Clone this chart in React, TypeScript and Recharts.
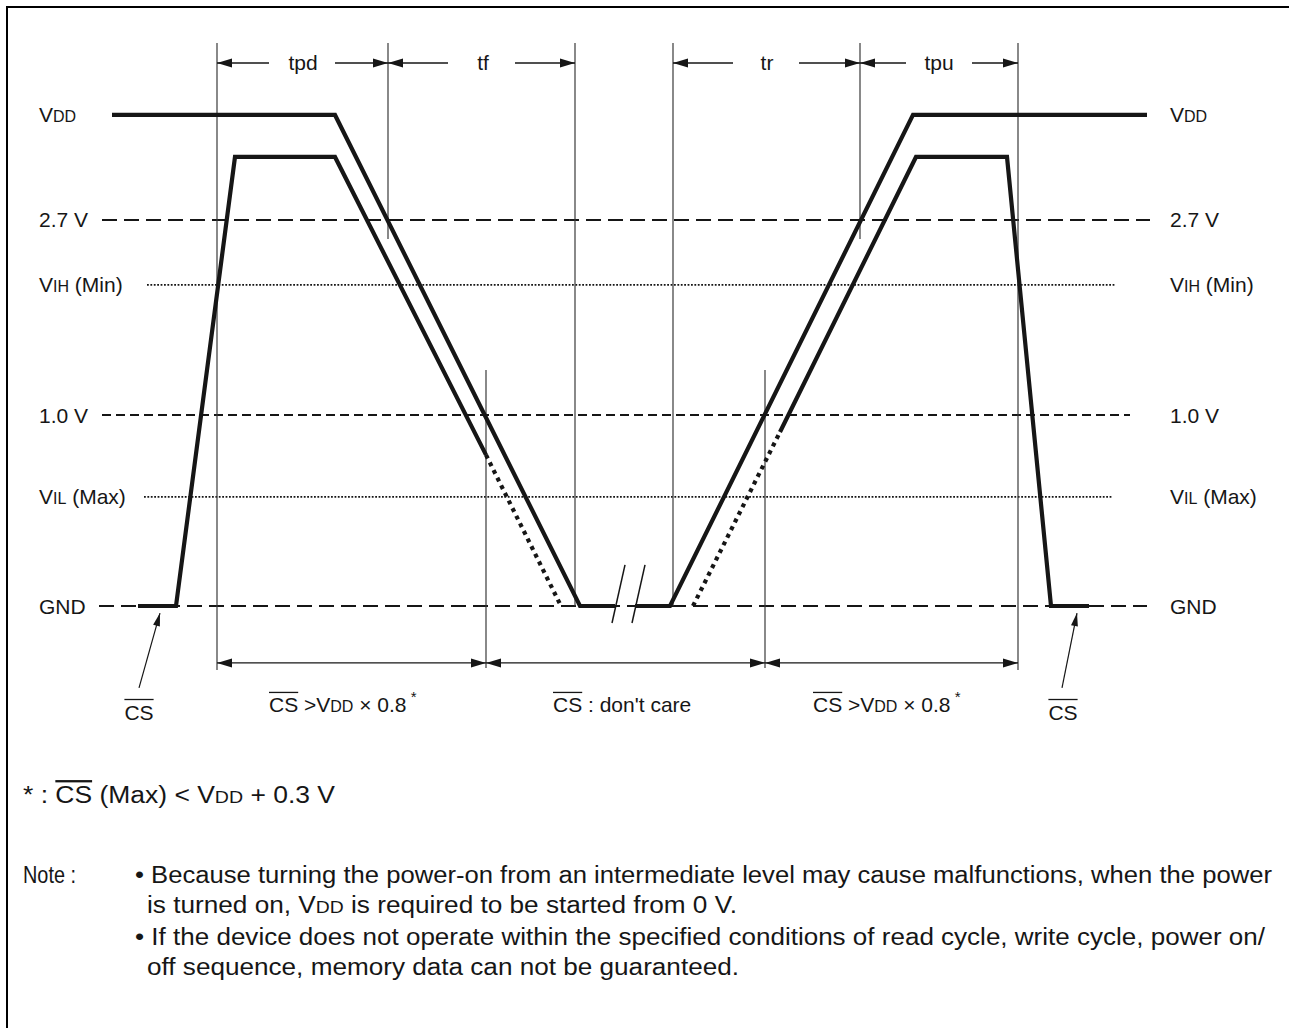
import React from 'react';
import { ComposedChart, Scatter, XAxis, YAxis, ReferenceLine, ReferenceDot } from 'recharts';

// ---------- canvas / scale layout ----------
const W = 1289;
const H = 1028;
const GND_PX = 606;
const PX_PER_UNIT_Y = 191;
const PX_PER_UNIT_X = 10;
const Y_MAX = GND_PX / PX_PER_UNIT_Y;
const Y_MIN = (GND_PX - H) / PX_PER_UNIT_Y;
const X_MAX = W / PX_PER_UNIT_X;

const INK = '#161616';
const FONT = "'Liberation Sans', Arial, Helvetica, sans-serif";
const NOTE_FONT = "'Liberation Sans Narrow', 'Liberation Sans', Arial, sans-serif";

// ---------- schematic levels (GND = 0, 1.0 V = 1) ----------
const GND = 0;
const VIL = 0.571;
const V10 = 1.0;
const VIH = 1.681;
const V27 = 2.021;
const CSH = 2.351;
const VDD = 2.571;

// ---------- signal series (t = time units, v = level) ----------
const vddPowerDown = [
  { t: 11.2, v: VDD }, { t: 33.5, v: VDD }, { t: 58.0, v: GND }, { t: 61.5, v: GND },
];
const vddPowerUp = [
  { t: 63.5, v: GND }, { t: 67.0, v: GND }, { t: 91.3, v: VDD }, { t: 114.7, v: VDD },
];
const csDownSolid = [
  { t: 13.8, v: GND }, { t: 17.6, v: GND }, { t: 23.5, v: CSH }, { t: 33.5, v: CSH }, { t: 48.6, v: 0.791 },
];
const csDownDotted = [{ t: 48.6, v: 0.791 }, { t: 56.1, v: GND }];
const csUpDotted = [{ t: 69.3, v: GND }, { t: 78.0, v: 0.911 }];
const csUpSolid = [
  { t: 78.0, v: 0.911 }, { t: 91.6, v: CSH }, { t: 100.7, v: CSH }, { t: 105.1, v: GND }, { t: 108.9, v: GND },
];
const breakMarkA = [{ t: 61.2, v: -0.089 }, { t: 62.5, v: 0.215 }];
const breakMarkB = [{ t: 63.2, v: -0.089 }, { t: 64.5, v: 0.215 }];
const csPointerLeft = [{ t: 13.9, v: -0.429 }, { t: 16.0, v: -0.037 }];
const csPointerRight = [{ t: 106.2, v: -0.429 }, { t: 107.7, v: -0.037 }];

// ---------- reference levels ----------
const levelLines = [
  { key: 'v27', v: V27, from: 10.2, to: 115.0, kind: 'long' },
  { key: 'vih', v: VIH, from: 14.7, to: 111.5, kind: 'dot' },
  { key: 'v10', v: V10, from: 10.2, to: 113.0, kind: 'short' },
  { key: 'vil', v: VIL, from: 14.4, to: 111.2, kind: 'dot' },
  { key: 'gnd', v: GND, from: 9.9, to: 114.7, kind: 'long' },
];
const levelLabels = [
  { key: 'VDD', v: VDD, main: 'V', sub: 'DD', rest: '' },
  { key: '27', v: V27, main: '2.7 V', sub: '', rest: '' },
  { key: 'VIH', v: VIH, main: 'V', sub: 'IH', rest: ' (Min)' },
  { key: '10', v: V10, main: '1.0 V', sub: '', rest: '' },
  { key: 'VIL', v: VIL, main: 'V', sub: 'IL', rest: ' (Max)' },
  { key: 'GND', v: GND, main: 'GND', sub: '', rest: '' },
];
const LABEL_T_LEFT = 3.9;
const LABEL_T_RIGHT = 117.0;

// ---------- timing guides ----------
const GUIDE_TOP = 2.948;
const guides = [
  { t: 21.7, from: GUIDE_TOP, to: -0.335 },
  { t: 38.8, from: GUIDE_TOP, to: 1.921 },
  { t: 57.5, from: GUIDE_TOP, to: 0 },
  { t: 67.3, from: GUIDE_TOP, to: 0 },
  { t: 86.0, from: GUIDE_TOP, to: 1.921 },
  { t: 101.8, from: GUIDE_TOP, to: -0.335 },
  { t: 48.6, from: 1.236, to: -0.325 },
  { t: 76.5, from: 1.236, to: -0.325 },
];
const DIM_TOP = 2.843;
const DIM_BOT = -0.298;
const topDimSegments = [
  [21.7, 26.9], [33.5, 38.8], [38.8, 44.8], [51.5, 57.5],
  [67.3, 73.3], [79.9, 86.0], [86.0, 90.6], [97.2, 101.8],
];
const topHeads = [
  { t: 21.7, dir: 'left' }, { t: 38.8, dir: 'right' }, { t: 38.8, dir: 'left' }, { t: 57.5, dir: 'right' },
  { t: 67.3, dir: 'left' }, { t: 86.0, dir: 'right' }, { t: 86.0, dir: 'left' }, { t: 101.8, dir: 'right' },
];
const botDimSegments = [[21.7, 101.8]];
const botHeads = [
  { t: 21.7, dir: 'left' }, { t: 48.6, dir: 'right' }, { t: 48.6, dir: 'left' },
  { t: 76.5, dir: 'right' }, { t: 76.5, dir: 'left' }, { t: 101.8, dir: 'right' },
];
const timingLabels = [
  { t: 30.3, label: 'tpd' }, { t: 48.3, label: 'tf' }, { t: 76.7, label: 'tr' }, { t: 93.9, label: 'tpu' },
];
const periodLabels = [
  { t: 26.9, kind: 'high' }, { t: 55.3, kind: 'dontcare' }, { t: 81.3, kind: 'high' },
];
const PERIOD_V = -0.518;
const csCornerLabels = [{ t: 13.9 }, { t: 106.3 }];
const CS_CORNER_V = -0.555;

// ---------- notes ----------
const NOTE_T = 2.3;
const NOTE_BULLET_T = 13.5;
const NOTE_TEXT_T = 14.7;
const footnoteV = -0.99;
const noteLines = [
  { v: -1.408, t: NOTE_BULLET_T, text: '\u2022 Because turning the power-on from an intermediate level may cause malfunctions, when the power', len: 1137 },
  { v: -1.565, t: NOTE_TEXT_T, text: 'is turned on, |DD| is required to be started from 0 V.', len: 590 },
  { v: -1.733, t: NOTE_BULLET_T, text: '\u2022 If the device does not operate within the specified conditions of read cycle, write cycle, power on/', len: 1130 },
  { v: -1.890, t: NOTE_TEXT_T, text: 'off sequence, memory data can not be guaranteed.', len: 592 },
];

// ---------- shapes ----------
const dashFor: Record<string, string> = { long: '15 7', short: '9 5', dot: '1.8 1.6' };
const widthFor: Record<string, number> = { long: 2, short: 2, dot: 1.8 };
const LBL = 21;
const SUB = 16;
const CS_W = 29.2;

const noShape = () => <g />;

const headShape = (dir: string, len = 15, half = 4.5) => (p: any) => {
  const { cx, cy } = p;
  const s = dir === 'right' ? -1 : 1;
  return (
    <path d={`M${cx},${cy} L${cx + s * len},${cy - half} L${cx + s * len},${cy + half} Z`} fill={INK} />
  );
};
const rotatedHead = (angle: number) => (p: any) => (
  <path
    d="M0,0 L-13,-3.5 L-13,3.5 Z"
    transform={`translate(${p.cx},${p.cy}) rotate(${angle})`}
    fill={INK}
  />
);

const levelLabelShape = (l: any) => (p: any) => (
  <text x={p.cx} y={p.cy + 7.5} fontSize={LBL} fontFamily={FONT} fill={INK}>
    {l.main}
    {l.sub ? <tspan fontSize={SUB}>{l.sub}</tspan> : null}
    {l.rest}
  </text>
);

const timingLabelShape = (label: string) => (p: any) => (
  <text x={p.cx} y={p.cy + 7.5} fontSize={LBL} fontFamily={FONT} fill={INK} textAnchor="middle">
    {label}
  </text>
);

const periodShape = (kind: string) => (p: any) => {
  const x = p.cx;
  const base = p.cy + 7.5;
  if (kind === 'dontcare') {
    return (
      <g>
        <text x={x} y={base} fontSize={LBL} fontFamily={FONT} fill={INK}>CS : don't care</text>
        <line x1={x} x2={x + CS_W} y1={base - 20} y2={base - 20} stroke={INK} strokeWidth={1.3} />
      </g>
    );
  }
  return (
    <g>
      <text x={x} y={base} fontSize={LBL} fontFamily={FONT} fill={INK}>
        CS &gt;V<tspan fontSize={SUB}>DD</tspan> {'\u00D7'} 0.8<tspan dy={-10} fontSize={15}> *</tspan>
      </text>
      <line x1={x} x2={x + CS_W} y1={base - 20} y2={base - 20} stroke={INK} strokeWidth={1.3} />
    </g>
  );
};

const csCornerShape = (p: any) => {
  const base = p.cy + 7.5;
  return (
    <g>
      <text x={p.cx} y={base} fontSize={LBL} fontFamily={FONT} fill={INK} textAnchor="middle">CS</text>
      <line x1={p.cx - CS_W / 2} x2={p.cx + CS_W / 2} y1={base - 20} y2={base - 20} stroke={INK} strokeWidth={1.3} />
    </g>
  );
};

const NOTE_SIZE = 23;

const footnoteShape = (p: any) => {
  const base = p.cy + 8;
  return (
    <text x={p.cx} y={base} fontSize={NOTE_SIZE} fontFamily={NOTE_FONT} fill={INK} textLength={312} lengthAdjust="spacingAndGlyphs">
      {'* : '}
      <tspan textDecoration="overline">CS</tspan>
      {' (Max) < V'}
      <tspan fontSize={17}>DD</tspan>
      {' + 0.3 V'}
    </text>
  );
};

const noteLabelShape = (p: any) => (
  <text x={p.cx} y={p.cy + 8} fontSize={NOTE_SIZE} fontFamily={NOTE_FONT} fill={INK} textLength={53} lengthAdjust="spacingAndGlyphs">Note :</text>
);

const noteLineShape = (n: any) => (p: any) => {
  const parts = n.text.split('|');
  return (
    <text
      x={p.cx}
      y={p.cy + 8}
      fontSize={NOTE_SIZE}
      fontFamily={NOTE_FONT}
      fill={INK}
      textLength={n.len}
      lengthAdjust="spacingAndGlyphs"
    >
      {parts.length === 3 ? (
        <>
          {parts[0]}V<tspan fontSize={17}>{parts[1]}</tspan>{parts[2]}
        </>
      ) : (
        n.text
      )}
    </text>
  );
};

const trace = (data: any[], width: number, dash?: string) => (
  <Scatter
    data={data}
    dataKey="v"
    line={{ stroke: INK, strokeWidth: width, strokeDasharray: dash, fill: 'none' }}
    lineJointType="linear"
    shape={noShape}
    isAnimationActive={false}
    legendType="none"
  />
);

export default function App() {
  return (
    <div style={{ position: 'absolute', left: 0, top: 0, width: W, height: H, background: '#fff' }}>
      <div
        style={{
          position: 'absolute', left: 6, top: 6, width: W - 6, height: H - 6,
          borderLeft: '2px solid #000', borderTop: '2px solid #000', boxSizing: 'border-box',
        }}
      />
      <div style={{ position: 'absolute', left: 0, top: 0 }}>
        <ComposedChart width={W} height={H} margin={{ top: 0, right: 0, bottom: 0, left: 0 }}>
          <XAxis type="number" dataKey="t" domain={[0, X_MAX]} hide allowDataOverflow />
          <YAxis type="number" dataKey="v" domain={[Y_MIN, Y_MAX]} hide allowDataOverflow />

          {levelLines.map((l) => (
            <ReferenceLine
              key={l.key}
              segment={[{ x: l.from, y: l.v }, { x: l.to, y: l.v }]}
              stroke={INK}
              strokeWidth={widthFor[l.kind]}
              strokeDasharray={dashFor[l.kind]}
            />
          ))}
          {guides.map((g, i) => (
            <ReferenceLine
              key={'g' + i}
              segment={[{ x: g.t, y: g.from }, { x: g.t, y: g.to }]}
              stroke="#3a3a3a"
              strokeWidth={1.2}
            />
          ))}
          {topDimSegments.map((s, i) => (
            <ReferenceLine key={'td' + i} segment={[{ x: s[0], y: DIM_TOP }, { x: s[1], y: DIM_TOP }]} stroke={INK} strokeWidth={1.3} />
          ))}
          {botDimSegments.map((s, i) => (
            <ReferenceLine key={'bd' + i} segment={[{ x: s[0], y: DIM_BOT }, { x: s[1], y: DIM_BOT }]} stroke={INK} strokeWidth={1.3} />
          ))}
          {topHeads.map((h, i) => (
            <ReferenceDot key={'th' + i} x={h.t} y={DIM_TOP} r={1} shape={headShape(h.dir)} />
          ))}
          {botHeads.map((h, i) => (
            <ReferenceDot key={'bh' + i} x={h.t} y={DIM_BOT} r={1} shape={headShape(h.dir)} />
          ))}

          {trace(vddPowerDown, 4.2)}
          {trace(vddPowerUp, 4.2)}
          {trace(csDownSolid, 4.2)}
          {trace(csUpSolid, 4.2)}
          {trace(csDownDotted, 4.2, '4 4.5')}
          {trace(csUpDotted, 4.2, '4 4.5')}
          {trace(breakMarkA, 1.5)}
          {trace(breakMarkB, 1.5)}
          {trace(csPointerLeft, 1.2)}
          {trace(csPointerRight, 1.2)}
          <ReferenceDot x={csPointerLeft[1].t} y={csPointerLeft[1].v} r={1} shape={rotatedHead(-74.4)} />
          <ReferenceDot x={csPointerRight[1].t} y={csPointerRight[1].v} r={1} shape={rotatedHead(-78.7)} />

          {levelLabels.map((l) => (
            <ReferenceDot key={'ll' + l.key} x={LABEL_T_LEFT} y={l.v} r={1} shape={levelLabelShape(l)} />
          ))}
          {levelLabels.map((l) => (
            <ReferenceDot key={'lr' + l.key} x={LABEL_T_RIGHT} y={l.v} r={1} shape={levelLabelShape(l)} />
          ))}
          {timingLabels.map((l) => (
            <ReferenceDot key={'tl' + l.label} x={l.t} y={DIM_TOP} r={1} shape={timingLabelShape(l.label)} />
          ))}
          {periodLabels.map((l, i) => (
            <ReferenceDot key={'pl' + i} x={l.t} y={PERIOD_V} r={1} shape={periodShape(l.kind)} />
          ))}
          {csCornerLabels.map((l, i) => (
            <ReferenceDot key={'cc' + i} x={l.t} y={CS_CORNER_V} r={1} shape={csCornerShape} />
          ))}

          <ReferenceDot x={NOTE_T} y={footnoteV} r={1} shape={footnoteShape} />
          <ReferenceDot x={NOTE_T} y={noteLines[0].v} r={1} shape={noteLabelShape} />
          {noteLines.map((n, i) => (
            <ReferenceDot key={'nl' + i} x={n.t} y={n.v} r={1} shape={noteLineShape(n)} />
          ))}
        </ComposedChart>
      </div>
    </div>
  );
}
